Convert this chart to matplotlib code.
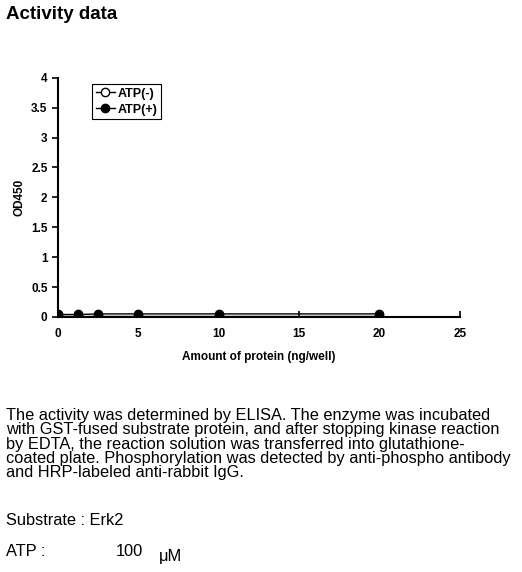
import matplotlib.pyplot as plt

plt.rcParams['font.family'] = ['Liberation Sans', 'DejaVu Sans']

protein = [0, 1.25, 2.5, 5, 10, 20]
atp_minus = [0.02, 0.02, 0.02, 0.02, 0.02, 0.02]
atp_plus = [0.04, 0.04, 0.05, 0.05, 0.05, 0.05]

fig = plt.figure(figsize=(5.22, 5.72), dpi=100)
fig.text(0.012, 0.99, "Activity data", fontsize=13.5, fontweight="bold", va="top")

ax = fig.add_axes([0.111, 0.446, 0.77, 0.418])
ax.plot(protein, atp_minus, "-o", color="black", mfc="white", ms=6, lw=1, label="ATP(-)")
ax.plot(protein, atp_plus, "-o", color="black", ms=6, lw=1, label="ATP(+)")
ax.set_xlim(0, 25)
ax.set_ylim(0, 4)
ax.set_xticks(range(0, 26, 5))
ax.set_yticks([0, 0.5, 1, 1.5, 2, 2.5, 3, 3.5, 4])
ax.set_yticklabels(["0", "0.5", "1", "1.5", "2", "2.5", "3", "3.5", "4"])
for s in ("top", "right"):
    ax.spines[s].set_visible(False)
for s in ("left", "bottom"):
    ax.spines[s].set_linewidth(1.5)
ax.tick_params(axis="y", direction="out", length=4, width=1.2, labelsize=8.5)
ax.tick_params(axis="x", direction="in", length=4, width=1.2, labelsize=8.5, pad=8)
for lab in ax.get_xticklabels() + ax.get_yticklabels():
    lab.set_fontweight("bold")
ax.set_xlabel("Amount of protein (ng/well)", fontsize=8.5, fontweight="bold", labelpad=8)
ax.set_ylabel("OD450", fontsize=8.5, fontweight="bold")
leg = ax.legend(loc="upper left", bbox_to_anchor=(0.07, 1.0), fancybox=False, edgecolor="black",
                prop={"size": 9, "weight": "bold"}, handlelength=1.5, handletextpad=0.2,
                borderpad=0.3, labelspacing=0.3, framealpha=1)
leg.get_frame().set_linewidth(0.8)

body = ("The activity was determined by ELISA. The enzyme was incubated\n"
        "with GST-fused substrate protein, and after stopping kinase reaction\n"
        "by EDTA, the reaction solution was transferred into glutathione-\n"
        "coated plate. Phosphorylation was detected by anti-phospho antibody\n"
        "and HRP-labeled anti-rabbit IgG.")
fig.text(0.012, 0.287, body, fontsize=11.8, va="top", linespacing=0.95)
fig.text(0.012, 0.103, "Substrate : Erk2", fontsize=11.8, va="top")
fig.text(0.012, 0.049, "ATP :", fontsize=11.8, va="top")
fig.text(0.222, 0.049, "100", fontsize=11.8, va="top")
fig.text(0.305, 0.040, "\u03bcM", fontsize=11.8, va="top")

fig.savefig("out.png", dpi=100)
